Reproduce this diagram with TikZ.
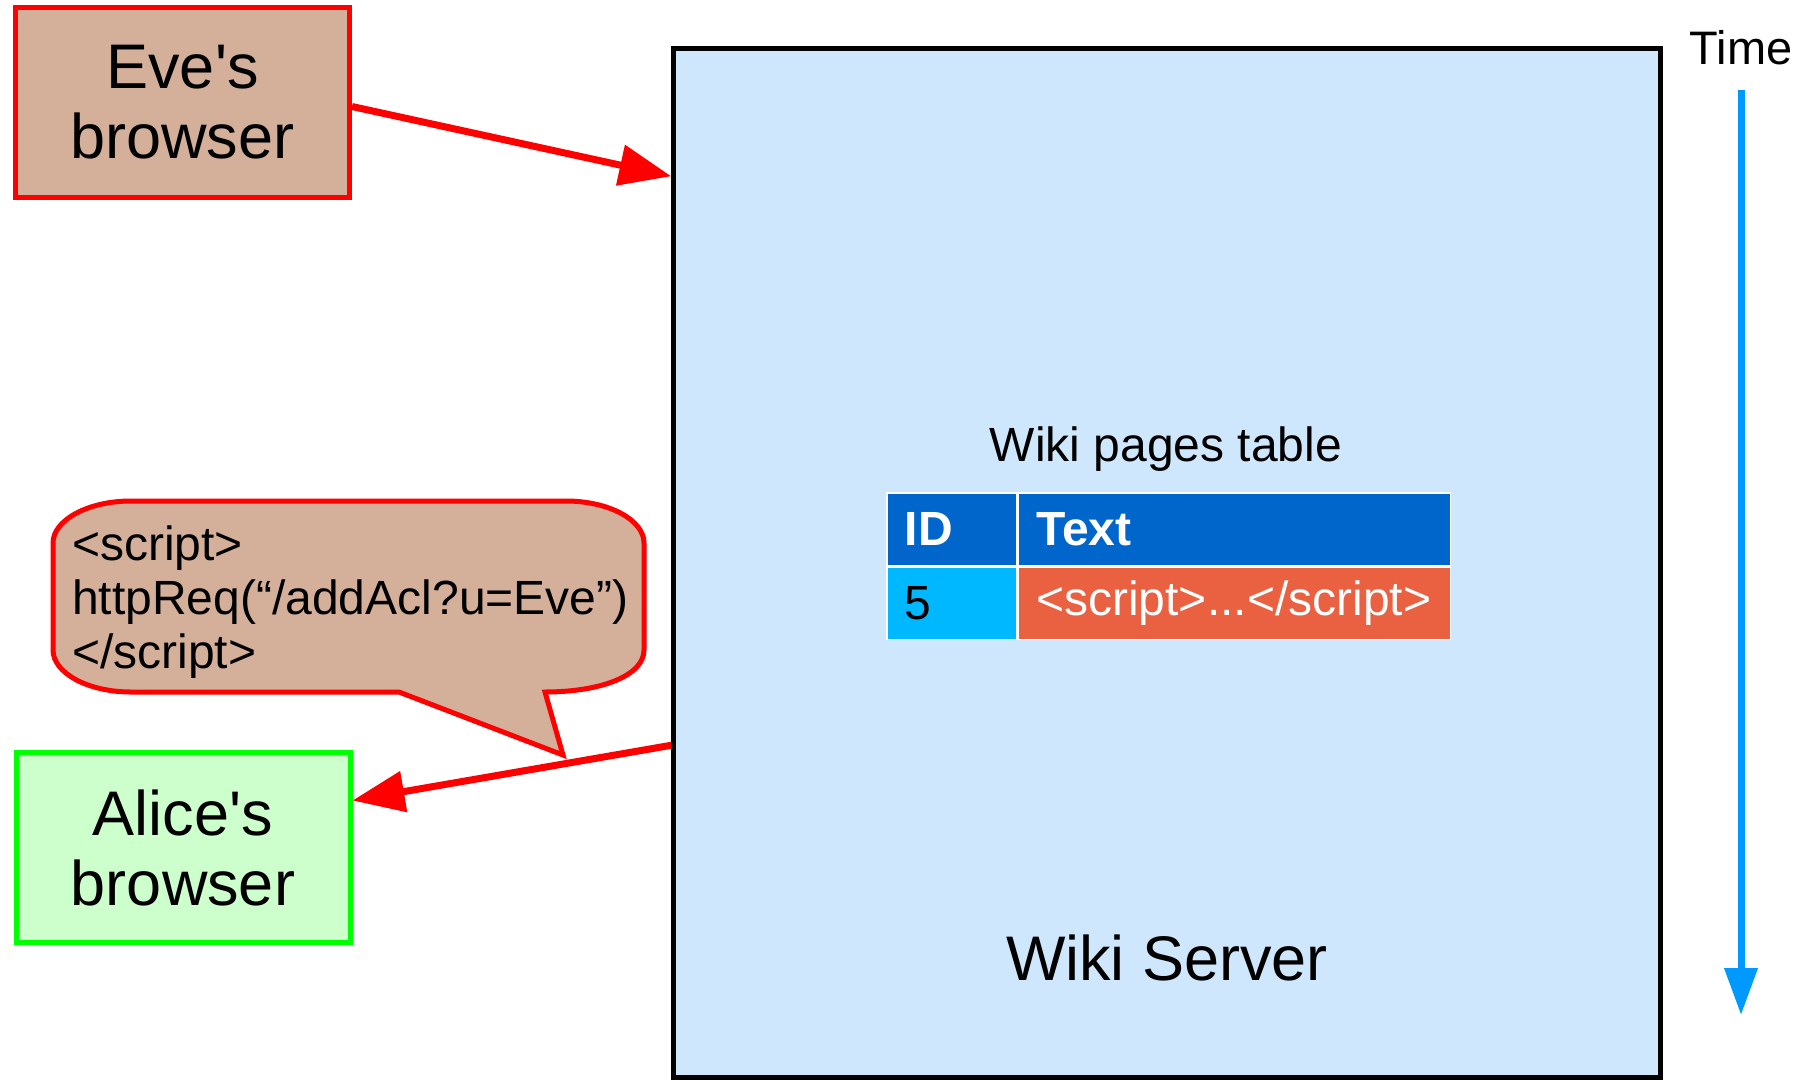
\documentclass[tikz,border=0pt]{standalone}
\usepackage{fontspec}
\setmainfont{Liberation Sans}
\usetikzlibrary{arrows.meta,calc}

\definecolor{evefill}{RGB}{212,175,154}
\definecolor{alicefill}{RGB}{204,255,204}
\definecolor{serverfill}{RGB}{207,231,252}
\definecolor{hdrblue}{RGB}{0,102,204}
\definecolor{idcyan}{RGB}{0,184,255}
\definecolor{scriptred}{RGB}{234,97,65}
\definecolor{timeblue}{RGB}{0,153,255}

\newcommand\labelhuge{\fontsize{63}{70}\selectfont}
\newcommand\labelmid{\fontsize{48}{54}\selectfont}

\begin{document}
\begin{tikzpicture}[x=1pt,y=-1pt,
  browser/.style={draw, line width=5pt, minimum width=334pt, minimum height=190pt,
    align=center, inner sep=0pt, font=\labelhuge},
  flow/.style={draw=red, line width=7pt, -{Triangle[length=52pt,width=40pt]}},
  timeflow/.style={draw=timeblue, line width=7pt, -{Triangle[length=47pt,width=32pt]}},
  cell/.style={anchor=north west, draw=white, line width=1.5pt, inner xsep=18pt,
    inner ysep=0pt, align=left, font=\labelmid},
  bubble/.style={draw=red, line width=5pt, fill=evefill, line join=miter},
]
\useasboundingbox (0,0) rectangle (1814,1080);

% server
\node[draw=black, line width=4.5pt, fill=serverfill, minimum width=987pt,
      minimum height=1029pt, inner sep=0pt] (server) at (1167,563) {};
\node[font=\labelhuge] (srvlabel) at (1167,958) {Wiki Server};

% wiki pages table
\node[font=\labelmid] (tbltitle) at (1166,449) {Wiki pages table};
\node[cell, fill=hdrblue, text=white, font=\labelmid\bfseries,
      text width=94pt, minimum height=73pt] (hid) at (886,492) {ID};
\node[cell, fill=hdrblue, text=white, font=\labelmid\bfseries,
      text width=396pt, minimum height=73pt] (htext) at (hid.north east) {Text};
\node[cell, fill=idcyan, text=black, text width=94pt,
      minimum height=72pt] (rid) at (hid.south west) {5};
\node[cell, fill=scriptred, text=white, text width=396pt,
      minimum height=72pt] (rtext) at (rid.north east) {<script>...</script>};

% browsers
\node[browser, fill=evefill, draw=red] (eve) at (182.5,102.5) {Eve\textquotesingle s\\browser};
\node[browser, fill=alicefill, draw=green] (alice) at (183,847.5) {Alice\textquotesingle s\\browser};

% requests
\coordinate (srvin) at ($(server.north west)+(0,130)$);
\coordinate (srvout) at ($(server.north west)+(0,699)$);
\draw[flow] ($(eve.east)+(0,4)$) -- (srvin);
\draw[flow] (srvout) -- ($(alice.east)+(0,-47)$);

% injected payload callout
\draw[bubble] (131,501) -- (566,501)
  .. controls (609,501) and (644,520) .. (644,543) -- (644,650)
  .. controls (644,676) and (600,692) .. (545,692)
  -- (563,755) -- (399,692) -- (131,692)
  .. controls (88,692) and (53,673) .. (53,650) -- (53,543)
  .. controls (53,520) and (88,501) .. cycle;
\node[anchor=west, align=left, font=\labelmid, inner sep=0pt] (payload) at (72,602)
  {<script>\\httpReq(“/addAcl?u=Eve”)\\</script>};

% time axis
\node[font=\fontsize{47}{54}\selectfont] (time) at (1741,48) {Time};
\coordinate (timestart) at (1741,90);
\coordinate (timeend) at (1741,1015);
\draw[timeflow] (timestart) -- (timeend);
\end{tikzpicture}
\end{document}
